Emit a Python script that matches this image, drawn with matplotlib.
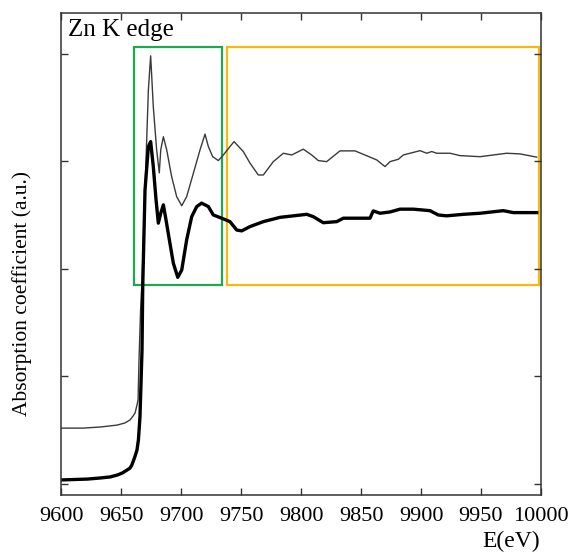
import matplotlib.pyplot as plt
from matplotlib.patches import Rectangle

plt.rcParams['font.family'] = ['Liberation Serif', 'DejaVu Serif']

# Zn K-edge spectra: upper (thin) and lower (thick) sample
e_thin = [9600, 9618.3, 9632.5, 9646.7, 9653.3, 9657.5, 9660, 9661.7, 9663.3,
          9664.2, 9665, 9666.3, 9667.8, 9668.6, 9670, 9671.4, 9672.8, 9674.7,
          9676.9, 9679.7, 9681.9, 9683.1, 9685.3, 9688.1, 9692.2, 9696.4,
          9700.6, 9704.7, 9710.3, 9715.8, 9720, 9722.8, 9726.4, 9731.1,
          9735.3, 9740.8, 9744.2, 9751.9, 9757.5, 9764.4, 9768.6, 9776.9,
          9785.3, 9792.3, 9801.9, 9808.9, 9814.4, 9821.4, 9832.5, 9845,
          9863.1, 9870, 9874.2, 9881.1, 9885.3, 9899.2, 9904.8, 9908.9,
          9913.1, 9924.2, 9932.5, 9949.2, 9971.4, 9982.5, 9996.4]
mu_thin = [0.260, 0.260, 0.265, 0.274, 0.284, 0.298, 0.316, 0.330, 0.367,
           0.391, 0.577, 0.809, 0.981, 1.135, 1.367, 1.600, 1.833, 1.991,
           1.755, 1.553, 1.447, 1.553, 1.615, 1.553, 1.429, 1.336, 1.294,
           1.336, 1.445, 1.553, 1.627, 1.569, 1.522, 1.504, 1.530, 1.569,
           1.592, 1.546, 1.492, 1.437, 1.437, 1.499, 1.538, 1.530, 1.557,
           1.530, 1.504, 1.499, 1.549, 1.549, 1.507, 1.476, 1.499, 1.510,
           1.530, 1.550, 1.538, 1.546, 1.538, 1.538, 1.527, 1.522, 1.538,
           1.535, 1.520]

e_thick = [9600, 9622, 9632.5, 9641, 9647, 9651, 9655, 9657.5, 9659, 9661.5,
           9663.3, 9664.5, 9665.8, 9667.5, 9668.1, 9670, 9672.8, 9674.7,
           9676.9, 9679.2, 9681.1, 9683.1, 9685.3, 9687.5, 9690.3, 9693.6,
           9697.3, 9700.6, 9704.7, 9708.9, 9713.1, 9717.2, 9722.8, 9726.9,
           9733.9, 9740.8, 9746.4, 9750.6, 9757.5, 9768.6, 9782.5, 9804.8,
           9810.3, 9818.6, 9829.8, 9835.3, 9857.5, 9860.2, 9865.8, 9874.2,
           9882.5, 9893.6, 9907.5, 9914.4, 9921.4, 9935.3, 9949.2, 9968.6,
           9976.9, 9996.4]
mu_thick = [0.019, 0.023, 0.028, 0.033, 0.042, 0.051, 0.065, 0.074, 0.088,
            0.126, 0.158, 0.205, 0.312, 0.623, 0.918, 1.367, 1.569, 1.592,
            1.476, 1.321, 1.213, 1.259, 1.298, 1.228, 1.135, 1.027, 0.961,
            0.995, 1.135, 1.243, 1.290, 1.306, 1.290, 1.251, 1.236, 1.220,
            1.181, 1.177, 1.197, 1.220, 1.240, 1.254, 1.243, 1.215, 1.220,
            1.236, 1.236, 1.270, 1.259, 1.265, 1.278, 1.278, 1.271, 1.251,
            1.247, 1.254, 1.259, 1.271, 1.262, 1.262]

# XANES / EXAFS regions (E start, E end), common mu range
xanes = (9661, 9734)
exafs = (9738, 9998)
box_mu = (0.926, 2.033)

x_ticks = [9600, 9650, 9700, 9750, 9800, 9850, 9900, 9950, 10000]
y_ticks = [0, 0.5, 1.0, 1.5, 2.0]

fig = plt.figure(figsize=(5.74, 5.54), dpi=100)
ax = fig.add_axes([0.1063, 0.1065, 0.8362, 0.870])

ax.plot(e_thin, mu_thin, color='#3a3a3a', lw=1.0)
ax.plot(e_thick, mu_thick, color='black', lw=2.4)

ax.add_patch(Rectangle((xanes[0], box_mu[0]), xanes[1] - xanes[0],
                       box_mu[1] - box_mu[0], fill=False,
                       edgecolor='#1fa84f', lw=1.6))
ax.add_patch(Rectangle((exafs[0], box_mu[0]), exafs[1] - exafs[0],
                       box_mu[1] - box_mu[0], fill=False,
                       edgecolor='#f7b90c', lw=1.6))

ax.set_xlim(9600, 10000)
ax.set_ylim(-0.051, 2.19)
ax.set_xticks(x_ticks)
ax.set_yticks(y_ticks)
ax.set_yticklabels([])
ax.tick_params(direction='in', length=5, width=1.0, color='#333333',
               top=True, right=True, labelsize=16, pad=9)
for sp in ax.spines.values():
    sp.set_color('#333333')
    sp.set_linewidth(1.1)

ax.text(0.015, 0.988, 'Zn K edge', transform=ax.transAxes,
        fontsize=18, va='top', ha='left')
fig.text(540 / 574, 1 - 552 / 554, 'E(eV)', fontsize=17,
         ha='right', va='bottom')
fig.text(22 / 574, 1 - 294 / 554, 'Absorption coefficient (a.u.)',
         fontsize=15.5, rotation=90, ha='center', va='center')

fig.savefig('out.png', dpi=100)
